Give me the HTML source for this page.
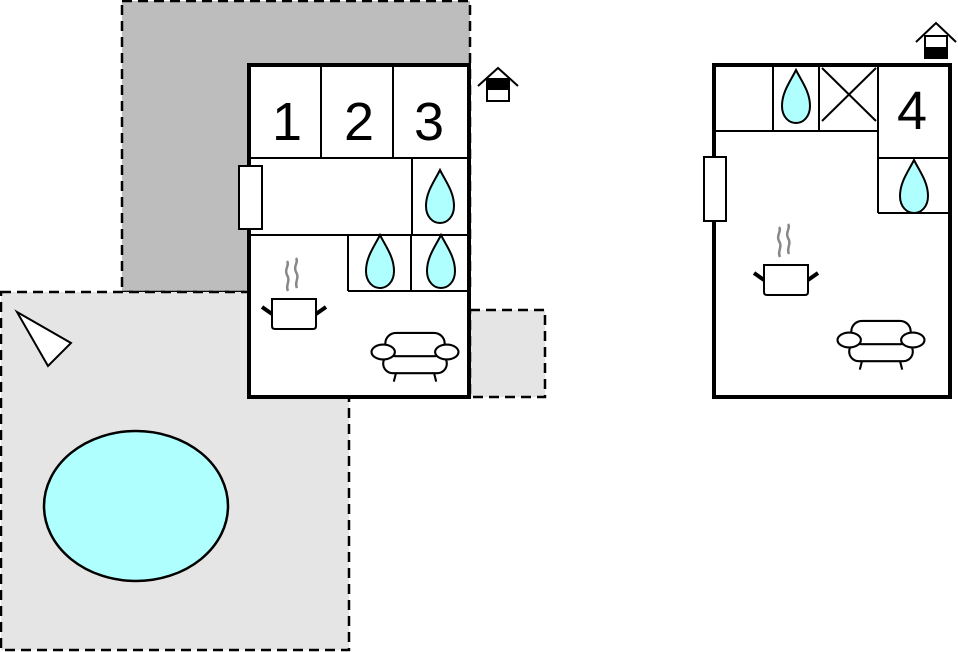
<!DOCTYPE html>
<html><head><meta charset="utf-8"><style>html,body{margin:0;padding:0;background:#fff}svg{display:block}</style></head>
<body>
<svg width="958" height="652" viewBox="0 0 958 652" xmlns="http://www.w3.org/2000/svg">
<defs>
<g id="drop"><path d="M0,-30 C6,-18 14,-8 14,6 C14,17 7,23 0,23 C-7,23 -14,17 -14,6 C-14,-8 -6,-18 0,-30 Z" fill="#b0ffff" stroke="#000" stroke-width="2"/></g>
<g id="pot">
<path d="M-22,-15 V12 Q-22,15 -19,15 H19 Q22,15 22,12 V-15 Z" fill="#fff" stroke="#000" stroke-width="2"/>
<line x1="-22" y1="0" x2="-32" y2="-7" stroke="#000" stroke-width="4"/>
<line x1="22" y1="0" x2="32" y2="-7" stroke="#000" stroke-width="4"/>
<path d="M-6,-23 C-9,-29 -3,-33 -7,-39 C-10,-45 -4,-49 -7,-53" fill="none" stroke="#888" stroke-width="2.5"/>
<path d="M3,-26 C0,-32 6,-36 2,-42 C-1,-48 5,-52 2,-56" fill="none" stroke="#888" stroke-width="2.5"/>
</g>
<g id="sofa" fill="#fff" stroke="#000" stroke-width="2" transform="scale(1.06)">
<line x1="-18" y1="20" x2="-20" y2="28"/><line x1="18" y1="20" x2="20" y2="28"/>
<rect x="-30" y="2" width="60" height="18" rx="9"/>
<rect x="-28" y="-18" width="56" height="22" rx="10"/>
<ellipse cx="-30" cy="0" rx="11" ry="7"/>
<ellipse cx="30" cy="0" rx="11" ry="7"/>
</g>
</defs>

<rect x="122" y="1" width="348" height="291" fill="#bdbdbd" stroke="#000" stroke-width="2.5" stroke-dasharray="10,6"/>
<rect x="1" y="292" width="348" height="358" fill="#e5e5e5" stroke="#000" stroke-width="2.5" stroke-dasharray="10,6"/>
<rect x="470" y="310" width="75" height="87" fill="#e5e5e5" stroke="#000" stroke-width="2.5" stroke-dasharray="10,6"/>

<polygon points="17,312 71,343 48,366" fill="#fff" stroke="#000" stroke-width="2"/>
<ellipse cx="136" cy="506" rx="92" ry="75" fill="#b0ffff" stroke="#000" stroke-width="2.5"/>

<rect x="249" y="65" width="220" height="332" fill="#fff" stroke="#000" stroke-width="4"/>
<g stroke="#000" stroke-width="2" fill="none">
<line x1="321" y1="65" x2="321" y2="158"/>
<line x1="393" y1="65" x2="393" y2="158"/>
<line x1="249" y1="158" x2="469" y2="158"/>
<line x1="412" y1="158" x2="412" y2="235"/>
<line x1="249" y1="235" x2="469" y2="235"/>
<line x1="348" y1="235" x2="348" y2="291"/>
<line x1="411" y1="235" x2="411" y2="291"/>
<line x1="348" y1="291" x2="469" y2="291"/>
</g>
<g font-family="Liberation Sans, sans-serif" font-size="54" text-anchor="middle" fill="#000">
<text x="287" y="140">1</text><text x="359" y="140">2</text><text x="429" y="140">3</text>
</g>
<rect x="239" y="166" width="23" height="63" fill="#fff" stroke="#000" stroke-width="2"/>
<use href="#drop" x="440" y="200"/>
<use href="#drop" x="380" y="265"/>
<use href="#drop" x="441" y="265"/>
<use href="#pot" x="294" y="314"/>
<use href="#sofa" x="415" y="352"/>
<g stroke="#000" stroke-width="2" fill="none">
<polyline points="478,86 498,68 518,86"/>
<rect x="487" y="79" width="22" height="22" fill="#fff"/>
<rect x="487" y="79" width="22" height="10" fill="#000"/>
</g>

<rect x="714" y="65" width="236" height="332" fill="#fff" stroke="#000" stroke-width="4"/>
<g stroke="#000" stroke-width="2" fill="none">
<line x1="714" y1="131" x2="878" y2="131"/>
<line x1="773" y1="65" x2="773" y2="131"/>
<line x1="819" y1="65" x2="819" y2="131"/>
<line x1="878" y1="65" x2="878" y2="213"/>
<line x1="878" y1="158" x2="950" y2="158"/>
<line x1="878" y1="213" x2="950" y2="213"/>
<line x1="822" y1="68" x2="876" y2="121"/>
<line x1="876" y1="68" x2="822" y2="121"/>
</g>
<text x="912" y="129" font-family="Liberation Sans, sans-serif" font-size="54" text-anchor="middle" fill="#000">4</text>
<rect x="704" y="157" width="22" height="64" fill="#fff" stroke="#000" stroke-width="2"/>
<use href="#drop" x="796" y="100"/>
<use href="#drop" x="914" y="190"/>
<use href="#pot" x="786" y="280"/>
<use href="#sofa" x="881" y="340"/>
<g stroke="#000" stroke-width="2" fill="none">
<polyline points="916,42 936,23 956,42"/>
<rect x="925" y="36" width="22" height="21" fill="#fff"/>
<rect x="925" y="48" width="22" height="10" fill="#000"/>
</g>
</svg>
</body></html>
